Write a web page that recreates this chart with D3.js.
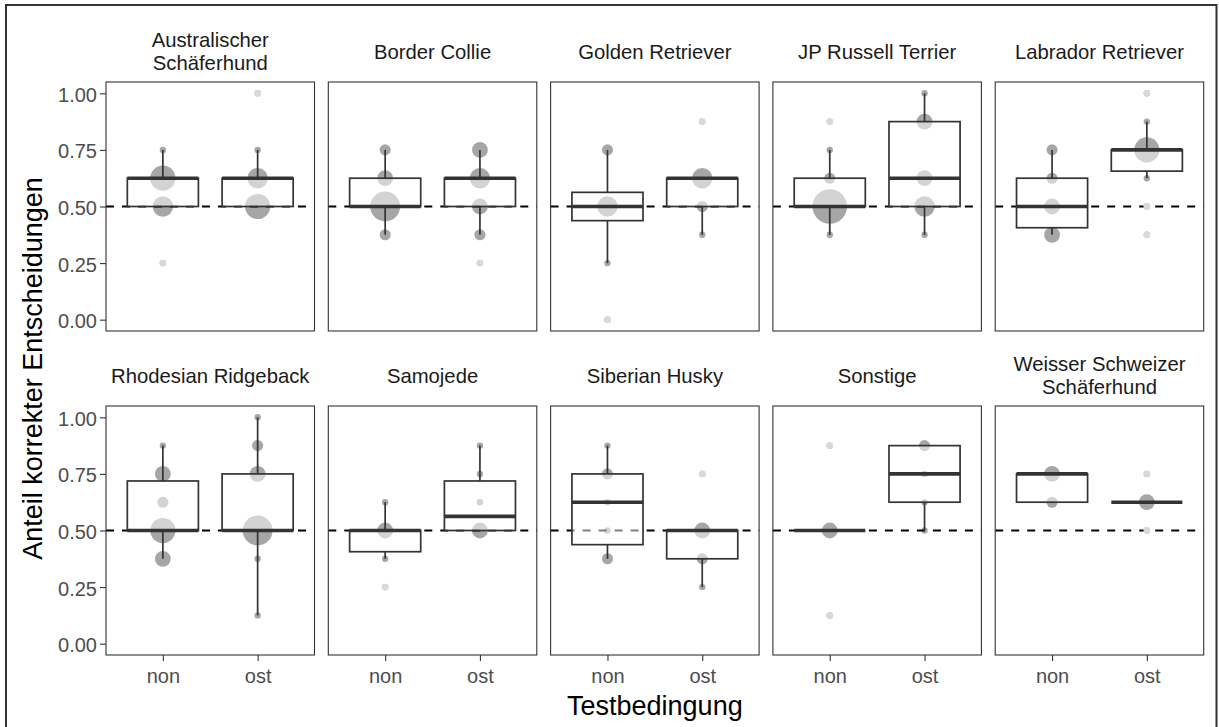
<!DOCTYPE html>
<html><head><meta charset="utf-8">
<script src="https://cdn.jsdelivr.net/npm/d3@7"></script>
<style>body{margin:0;background:#fff}svg{display:block}</style>
</head><body>
<svg id="c" width="1219" height="727"></svg>
<script>
// ---------------- data ----------------
const breeds = ["Australischer\nSchäferhund","Border Collie","Golden Retriever","JP Russell Terrier","Labrador Retriever",
  "Rhodesian Ridgeback","Samojede","Siberian Husky","Sonstige","Weisser Schweizer\nSchäferhund"];
const conditions = ["non","ost"];
// proportion of correct decisions (k/8)
const valueLevels = [0,0.125,0.25,0.375,0.5,0.625,0.75,0.875,1];
// number of dogs at each value level, per breed
const countsNon = [
  [0,0,1,0,4,5,1,0,0],
  [0,0,0,2,6,3,2,0,0],
  [1,0,1,0,4,0,2,0,0],
  [0,0,0,1,7,2,1,1,0],
  [0,0,0,3,3,2,2,0,0],
  [0,0,0,3,5,2,3,1,0],
  [0,0,1,1,3,1,0,0,0],
  [0,0,0,2,1,1,2,1,0],
  [0,1,0,0,3,0,0,1,0],
  [0,0,0,0,0,2,3,0,0]
];
const countsOst = [
  [0,0,0,0,5,4,1,0,1],
  [0,0,1,2,3,4,3,0,0],
  [0,0,0,1,2,4,0,1,0],
  [0,0,0,1,4,3,0,3,1],
  [0,0,0,1,1,1,5,1,1],
  [0,1,0,1,6,0,3,2,1],
  [0,0,0,0,3,1,1,1,0],
  [0,0,1,2,3,0,1,0,0],
  [0,0,0,0,1,1,1,2,0],
  [0,0,0,0,1,3,1,0,0]
];
const yTicks = [0,0.25,0.5,0.75,1];
const chanceLevel = 0.5;
const xTitle = "Testbedingung";
const yTitle = "Anteil korrekter Entscheidungen";

// ---------------- layout ----------------
const FONT = "'Liberation Sans', Arial, sans-serif";
const svg = d3.select("#c");
const panelX0 = 106, panelStepX = 222.3, panelW = 208.5;
const panelY0 = 82, panelStepY = 324, panelH = 249;
const nCols = 5;

svg.append("rect").attr("x",6).attr("y",5).attr("width",1210.5).attr("height",760)
  .attr("fill","none").attr("stroke","#333").attr("stroke-width",2);

const x = d3.scalePoint().domain(conditions).range([0,panelW]).padding(0.6);
const y = d3.scaleLinear().domain([-0.05,1.05]).range([panelH,0]);
const rScale = d3.scaleLinear().domain([1,7]).range([3.2,17.3]);
const boxW = x.step()*0.75;

function boxStats(counts){
  const vals = [];
  counts.forEach((c,i)=>{ for(let k=0;k<c;k++) vals.push(valueLevels[i]); });
  vals.sort(d3.ascending);
  const q1 = d3.quantile(vals,0.25), med = d3.quantile(vals,0.5), q3 = d3.quantile(vals,0.75);
  const iqr = q3-q1;
  const lo = q1-1.5*iqr, hi = q3+1.5*iqr;
  const inside = vals.filter(v=>v>=lo-1e-9 && v<=hi+1e-9);
  const wLo = d3.min(inside), wHi = d3.max(inside);
  const outliers = Array.from(new Set(vals.filter(v=>v<lo-1e-9 || v>hi+1e-9)));
  return {q1,med,q3,wLo,wHi,outliers};
}

breeds.forEach((breed,bi)=>{
  const col = bi % nCols, row = Math.floor(bi/nCols);
  const gx = panelX0 + col*panelStepX, gy = panelY0 + row*panelStepY;
  const g = svg.append("g").attr("transform",`translate(${gx},${gy})`);

  // chance line
  g.append("line").attr("x1",0).attr("x2",panelW).attr("y1",y(chanceLevel)).attr("y2",y(chanceLevel))
    .attr("stroke","#000").attr("stroke-width",1.8).attr("stroke-dasharray","8,8");

  const data = [countsNon[bi], countsOst[bi]];
  conditions.forEach((cond,ci)=>{
    const counts = data[ci];
    const cx = x(cond);
    counts.forEach((n,i)=>{
      if(n>0) g.append("circle").attr("cx",cx).attr("cy",y(valueLevels[i])).attr("r",rScale(n))
        .attr("fill","#000").attr("fill-opacity",0.35);
    });
  });

  conditions.forEach((cond,ci)=>{
    const s = boxStats(data[ci]);
    const cx = x(cond);
    const bg = g.append("g");
    if(s.wHi > s.q3) bg.append("line").attr("x1",cx).attr("x2",cx).attr("y1",y(s.q3)).attr("y2",y(s.wHi))
      .attr("stroke","#333").attr("stroke-width",1.7);
    if(s.wLo < s.q1) bg.append("line").attr("x1",cx).attr("x2",cx).attr("y1",y(s.q1)).attr("y2",y(s.wLo))
      .attr("stroke","#333").attr("stroke-width",1.7);
    bg.append("rect").attr("x",cx-boxW/2).attr("y",y(s.q3)).attr("width",boxW).attr("height",y(s.q1)-y(s.q3))
      .attr("fill","#fff").attr("fill-opacity",0.5).attr("stroke","#333").attr("stroke-width",1.7);
    bg.append("line").attr("x1",cx-boxW/2).attr("x2",cx+boxW/2).attr("y1",y(s.med)).attr("y2",y(s.med))
      .attr("stroke","#333").attr("stroke-width",3.6);
    s.outliers.forEach(v=>{
      bg.append("circle").attr("cx",cx).attr("cy",y(v)).attr("r",3.4).attr("fill","#d9d9d9");
    });
  });

  g.append("rect").attr("x",0).attr("y",0).attr("width",panelW).attr("height",panelH)
    .attr("fill","none").attr("stroke","#333").attr("stroke-width",1.1);

  const lines = breed.split("\n");
  const st = g.append("text").attr("x",panelW/2).attr("text-anchor","middle")
    .attr("font-family",FONT).attr("font-size","20.3px").attr("fill","#1a1a1a");
  const base = -23.5 - (lines.length-1)*11.5;
  lines.forEach((ln,li)=>{
    st.append("tspan").attr("x",panelW/2).attr("y",base+li*23).text(ln);
  });

  if(col===0){
    const ax = g.append("g").call(d3.axisLeft(y).tickValues(yTicks).tickFormat(d3.format(".2f")).tickSize(6).tickPadding(3));
    ax.select(".domain").remove();
    ax.selectAll(".tick line").attr("stroke","#333").attr("stroke-width",1.1);
    ax.selectAll(".tick text").attr("font-family",FONT).attr("font-size","20px").attr("fill","#4d4d4d").attr("dy","0.4em");
  }
  if(row===1){
    const ax = g.append("g").attr("transform",`translate(0,${panelH})`)
      .call(d3.axisBottom(x).tickSize(6).tickPadding(3));
    ax.select(".domain").remove();
    ax.selectAll(".tick line").attr("stroke","#333").attr("stroke-width",1.1);
    ax.selectAll(".tick text").attr("font-family",FONT).attr("font-size","20px").attr("fill","#4d4d4d").attr("dy","0.93em");
  }
});

const plotLeft = panelX0, plotRight = panelX0 + (nCols-1)*panelStepX + panelW;
svg.append("text").attr("x",(plotLeft+plotRight)/2).attr("y",715).attr("text-anchor","middle")
  .attr("font-family",FONT).attr("font-size","27px").attr("fill","#000").text(xTitle);
const midY = (panelY0 + panelY0+panelStepY+panelH)/2;
svg.append("text").attr("transform",`translate(42,${midY}) rotate(-90)`).attr("text-anchor","middle")
  .attr("font-family",FONT).attr("font-size","27px").attr("fill","#000").text(yTitle);
</script>
</body></html>
